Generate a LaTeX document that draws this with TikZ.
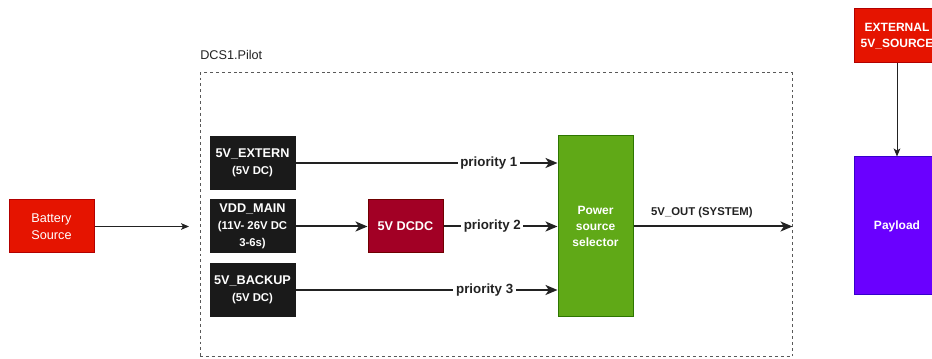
\documentclass[tikz,border=0pt]{standalone}
\usepackage{fontspec}
\setmainfont{Liberation Sans}
\usetikzlibrary{arrows.meta}

\definecolor{battred}{HTML}{E51400}
\definecolor{battline}{HTML}{B20000}
\definecolor{dcdcred}{HTML}{A20025}
\definecolor{dcdcline}{HTML}{6F0000}
\definecolor{selgreen}{HTML}{60A917}
\definecolor{selline}{HTML}{2D7600}
\definecolor{payviolet}{HTML}{6A00FF}
\definecolor{payline}{HTML}{3700CC}
\definecolor{railblack}{HTML}{1A1A1A}
\definecolor{labelgray}{HTML}{222222}

\newcommand{\railnote}[1]{{\fontsize{8.5}{12.75}\selectfont #1}}

\tikzset{
	block/.style={text=white, align=center, inner sep=1pt, line width=0.75pt,
		font=\fontsize{9.5}{12.75}\selectfont\bfseries},
	rail/.style={block, draw=railblack, fill=railblack, minimum width=63.75pt, minimum height=39.75pt},
	flow/.style={line width=1.5pt, labelgray, -{Stealth[length=9pt,width=7.5pt,inset=2.5pt]}},
	wire/.style={line width=0.75pt, labelgray, -{Stealth[length=6pt,width=5pt,inset=1.5pt]}},
	tag/.style={fill=white, inner sep=2pt, text=labelgray, font=\fontsize{10}{12}\selectfont\bfseries},
}

\begin{document}
\begin{tikzpicture}[x=0.75pt, y=-0.75pt]
	\useasboundingbox (0,0) rectangle (932,359);

	% Pilot board outline and its caption
	\node[draw=black!65, line width=0.75pt, dash pattern=on 2.2pt off 2.2pt,
		minimum width=444pt, minimum height=213pt] (pilot) at (496, 215) {};
	\node[anchor=west, inner sep=0pt, font=\fontsize{9.5}{12}\selectfont, text=labelgray] (pilottitle) at (200, 55) {DCS1.Pilot};

	% Define the nodes with specific positions
	\node[block, draw=battline, fill=battred, font=\fontsize{9.5}{12.75}\selectfont,
		minimum width=63.75pt, minimum height=39.75pt] (batt) at (51.5, 226.5) {Battery\\Source};
	\coordinate (pilotin) at (189, 226.5);

	\node[rail] (ext) at (252.5, 163) {5V\_EXTERN\\\railnote{(5V DC)}};
	\node[rail] (main) at (252.5, 226.5) {VDD\_MAIN\\\railnote{(11V- 26V DC}\\\railnote{3-6s)}};
	\node[rail] (backup) at (252.5, 290) {5V\_BACKUP\\\railnote{(5V DC)}};

	\node[block, draw=dcdcline, fill=dcdcred, minimum width=56.25pt, minimum height=39.75pt] (dcdc) at (405.5, 226.5) {5V DCDC};
	\node[block, draw=selline, fill=selgreen, font=\fontsize{9}{12}\selectfont\bfseries,
		minimum width=56.25pt, minimum height=135.75pt] (sel) at (595.5, 226.5) {Power\\source\\selector};

	\node[block, draw=battline, fill=battred, font=\fontsize{9}{11.5}\selectfont\bfseries,
		minimum width=64.5pt, minimum height=40.5pt] (extsrc) at (897, 36) {EXTERNAL\\5V\_SOURCE};
	\node[block, draw=payline, fill=payviolet, font=\fontsize{9}{12}\selectfont\bfseries,
		minimum width=64.5pt, minimum height=103.5pt] (payload) at (897, 226) {Payload};

	% Draw the connectors between nodes with labels
	\draw[wire] (batt) -- (pilotin);
	\draw[flow] (main) -- (dcdc);
	\draw[flow] (ext) -- node[tag, pos=0.738] {priority 1} (ext -| sel.west);
	\draw[flow] (dcdc) -- node[tag, pos=0.428] {priority 2} (sel);
	\draw[flow] (backup) -- node[tag, pos=0.722] {priority 3} (backup -| sel.west);
	\draw[flow] (sel) -- node[pos=0.43, above=6pt, inner sep=0pt, text=labelgray,
		font=\fontsize{8.5}{10}\selectfont\bfseries] {5V\_OUT (SYSTEM)} (sel -| pilot.east);
	\draw[wire] (extsrc) -- (payload);
\end{tikzpicture}
\end{document}
